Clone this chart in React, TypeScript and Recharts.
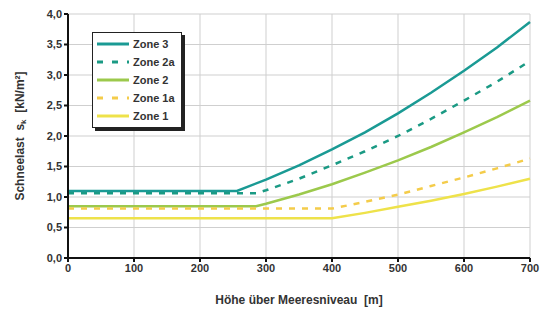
import { useEffect } from 'react';
import { LineChart, Line, XAxis, YAxis, CartesianGrid } from 'recharts';

// Höhe über Meeresniveau [m]
const zone3Hoehe = [0, 256, 300, 350, 400, 450, 500, 550, 600, 650, 700];
const zone3 = [1.1, 1.1, 1.285, 1.52, 1.78, 2.06, 2.37, 2.71, 3.07, 3.45, 3.87];
const zone2aHoehe = [0, 285, 300, 350, 400, 450, 500, 550, 600, 650, 700];
const zone2a = [1.06, 1.06, 1.11, 1.3, 1.52, 1.75, 2.0, 2.28, 2.58, 2.89, 3.23];
const zone2Hoehe = [0, 285, 300, 350, 400, 450, 500, 550, 600, 650, 700];
const zone2 = [0.85, 0.85, 0.89, 1.04, 1.21, 1.4, 1.6, 1.82, 2.06, 2.31, 2.58];
const zone1aHoehe = [0, 400, 450, 500, 550, 600, 650, 700];
const zone1a = [0.81, 0.81, 0.92, 1.04, 1.18, 1.32, 1.47, 1.63];
const zone1Hoehe = [0, 400, 450, 500, 550, 600, 650, 700];
const zone1 = [0.65, 0.65, 0.74, 0.84, 0.94, 1.05, 1.17, 1.3];

const xTicks = [0, 100, 200, 300, 400, 500, 600, 700];
const yTicks = [0, 0.5, 1, 1.5, 2, 2.5, 3, 3.5, 4];

const toPoints = (xs: number[], ys: number[]) => xs.map((x, i) => ({ x, y: ys[i] }));

const series = [
    { name: 'Zone 3', data: toPoints(zone3Hoehe, zone3), color: '#1a9a94', dash: undefined },
    { name: 'Zone 2a', data: toPoints(zone2aHoehe, zone2a), color: '#1a9a84', dash: '6 7' },
    { name: 'Zone 2', data: toPoints(zone2Hoehe, zone2), color: '#9cc94c', dash: undefined },
    { name: 'Zone 1a', data: toPoints(zone1aHoehe, zone1a), color: '#f4cc4a', dash: '6 7' },
    { name: 'Zone 1', data: toPoints(zone1Hoehe, zone1), color: '#eee24a', dash: undefined },
];

const font = '"Liberation Sans", Arial, sans-serif';

function LegendBox() {
    return (
        <div
            style={{
                position: 'absolute',
                left: 92,
                top: 32,
                border: '1px solid #222',
                boxShadow: '3px 3px 0 #222',
                background: '#fff',
                padding: '2px 6px 2px 3px',
                fontFamily: font,
                fontWeight: 700,
                fontSize: 11,
                color: '#333',
            }}
        >
            {series.map((s) => (
                <div key={s.name} style={{ display: 'flex', alignItems: 'center', height: 18 }}>
                    <svg width={34} height={6} style={{ marginRight: 3 }}>
                        <line
                            x1={1}
                            y1={3}
                            x2={33}
                            y2={3}
                            stroke={s.color}
                            strokeWidth={3}
                            strokeDasharray={s.dash ? '6 9' : undefined}
                        />
                    </svg>
                    <span>{s.name}</span>
                </div>
            ))}
        </div>
    );
}

function YLabel(props: any) {
    const { viewBox } = props;
    const cx = 20;
    const cy = viewBox.y + viewBox.height / 2;
    return (
        <text
            x={cx}
            y={cy}
            transform={`rotate(-90 ${cx} ${cy})`}
            textAnchor="middle"
            dominantBaseline="central"
            fill="#333"
            style={{ fontFamily: font, fontWeight: 700, fontSize: 12 }}
        >
            {'Schneelast\u00a0\u00a0s'}
            <tspan fontSize={8} dy={3}>k</tspan>
            <tspan dy={-3}>{'\u00a0\u00a0[kN/m²]'}</tspan>
        </text>
    );
}

export default function App() {
    useEffect(() => {
        document.body.style.margin = '0';
    }, []);

    return (
        <div style={{ position: 'relative', width: 548, height: 309 }}>
            <LineChart width={548} height={309} margin={{ top: 14, right: 18, bottom: 19, left: 0 }}>
                <CartesianGrid stroke="#cfcfcf" strokeWidth={1} />
                <XAxis
                    type="number"
                    dataKey="x"
                    domain={[0, 700]}
                    ticks={xTicks}
                    allowDuplicatedCategory={false}
                    height={32}
                    stroke="#111"
                    strokeWidth={2}
                    tickSize={4}
                    tick={{ fill: '#333', fontSize: 11, fontWeight: 700, fontFamily: font }}
                    label={{
                        value: 'Höhe über Meeresniveau\u00a0\u00a0[m]',
                        position: 'insideBottom',
                        offset: -14,
                        fill: '#333',
                        style: { fontFamily: font, fontWeight: 700, fontSize: 12 },
                    }}
                />
                <YAxis
                    type="number"
                    dataKey="y"
                    domain={[0, 4]}
                    ticks={yTicks}
                    width={68}
                    stroke="#111"
                    strokeWidth={2}
                    tickSize={4}
                    tickFormatter={(v: number) => v.toFixed(1).replace('.', ',')}
                    tick={{ fill: '#333', fontSize: 11, fontWeight: 700, fontFamily: font }}
                    label={<YLabel />}
                />
                {series.map((s) => (
                    <Line
                        key={s.name}
                        data={s.data}
                        dataKey="y"
                        name={s.name}
                        type="linear"
                        stroke={s.color}
                        strokeWidth={2.5}
                        strokeDasharray={s.dash}
                        dot={false}
                        activeDot={false}
                        isAnimationActive={false}
                    />
                ))}
            </LineChart>
            <LegendBox />
        </div>
    );
}
